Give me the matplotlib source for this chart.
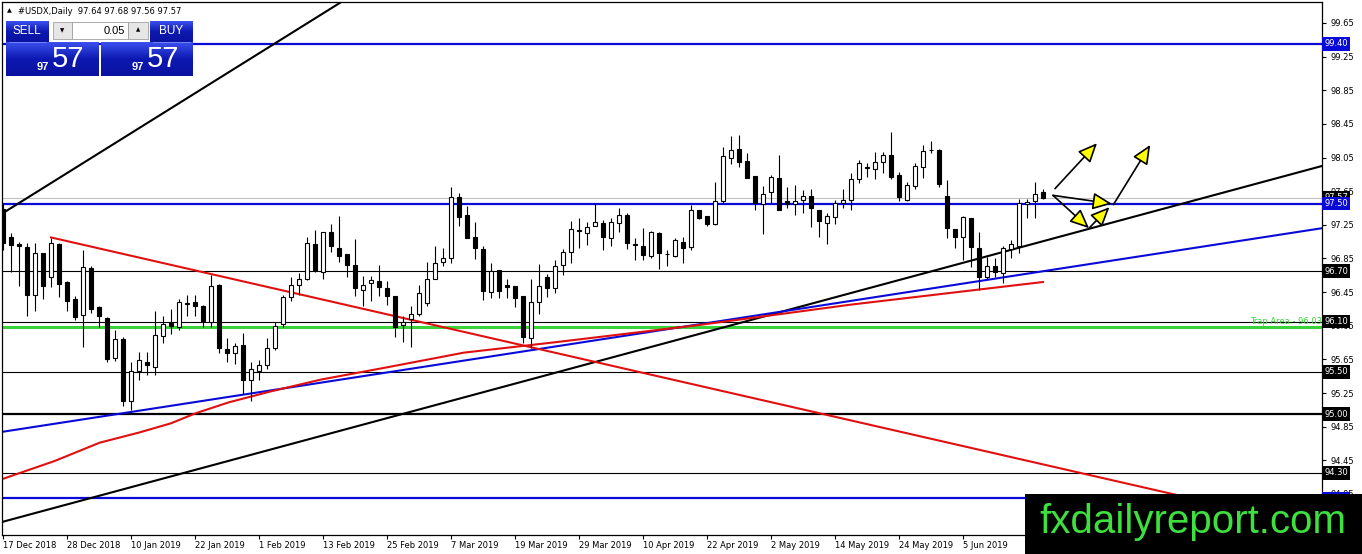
import matplotlib
matplotlib.use("Agg")
import matplotlib.pyplot as plt
import matplotlib.transforms as mtransforms
from matplotlib.colors import LinearSegmentedColormap
from matplotlib.patches import Rectangle
import numpy as np
import pandas as pd

W, H = 1362, 554

# daily bars, 17 Dec 2018 .. 19 Jun 2019 (no bars on 25 Dec / 1 Jan)
dates = pd.bdate_range("2018-12-17", "2019-06-19")
dates = dates[~dates.isin(pd.to_datetime(["2018-12-25", "2019-01-01"]))]

opens = [97.44, 97.10, 97.02, 96.99, 96.41, 96.91, 96.63, 97.02, 96.57, 96.37,
         96.18, 96.74, 96.27, 96.14, 95.67, 95.89, 95.16, 95.51, 95.62, 95.56,
         95.93, 96.08, 96.04, 96.31, 96.33, 96.29, 96.10, 96.53, 95.77, 95.73,
         95.82, 95.41, 95.51, 95.58, 95.78, 96.07, 96.39, 96.53, 96.61, 97.02,
         96.69, 97.16, 96.98, 96.90, 96.77, 96.48, 96.56, 96.58, 96.50, 96.40,
         96.06, 96.13, 96.19, 96.32, 96.60, 96.81, 96.85, 97.58, 97.37, 97.10,
         96.96, 96.45, 96.71, 96.53, 96.52, 96.40, 95.91, 96.33, 96.63, 96.50,
         96.77, 96.93, 97.18, 97.15, 97.24, 97.27, 97.09, 97.27, 97.37, 97.02,
         97.00, 96.88, 97.15, 96.90, 96.88, 97.05, 96.99, 97.43, 97.35, 97.26,
         97.53, 98.05, 98.15, 98.01, 97.83, 97.50, 97.64, 97.81, 97.53, 97.50,
         97.55, 97.59, 97.43, 97.27, 97.34, 97.51, 97.55, 97.79, 97.93, 97.91,
         98.00, 98.08, 97.84, 97.54, 97.71, 97.94, 98.14, 98.14, 97.59, 97.20,
         97.11, 97.33, 96.98, 96.63, 96.76, 96.68, 96.96, 97.00, 97.50, 97.53,
         97.64]
highs = [97.50, 97.15, 97.05, 97.03, 97.03, 96.92, 97.09, 97.03, 96.58, 96.40,
         96.95, 96.76, 96.28, 96.15, 96.00, 95.92, 95.62, 95.74, 95.74, 96.23,
         96.16, 96.25, 96.37, 96.41, 96.41, 96.30, 96.65, 96.55, 95.90, 95.85,
         95.96, 95.62, 95.64, 95.90, 96.10, 96.41, 96.63, 96.68, 97.10, 97.19,
         97.17, 97.26, 97.36, 96.90, 97.08, 96.64, 96.64, 96.77, 96.58, 96.40,
         96.16, 96.28, 96.53, 96.81, 97.00, 96.97, 97.70, 97.63, 97.47, 97.28,
         97.00, 96.80, 96.71, 96.61, 96.52, 96.40, 96.61, 96.78, 96.67, 96.83,
         96.96, 97.29, 97.33, 97.28, 97.51, 97.31, 97.33, 97.45, 97.39, 97.09,
         97.21, 97.18, 97.16, 96.95, 97.09, 97.10, 97.49, 97.43, 97.35, 97.76,
         98.17, 98.31, 98.32, 98.10, 97.83, 97.71, 97.84, 98.08, 97.70, 97.72,
         97.66, 97.67, 97.43, 97.39, 97.54, 97.68, 97.86, 98.02, 97.99, 98.11,
         98.11, 98.35, 97.88, 97.76, 97.99, 98.20, 98.25, 98.15, 97.78, 97.20,
         97.35, 97.33, 97.16, 96.87, 96.86, 97.00, 97.07, 97.56, 97.56, 97.76,
         97.68]
lows = [96.95, 96.69, 96.52, 96.16, 96.23, 96.37, 96.51, 96.39, 96.23, 96.12,
        95.80, 96.20, 96.04, 95.62, 95.63, 95.10, 95.05, 95.40, 95.46, 95.46,
        95.84, 95.95, 96.00, 96.17, 96.17, 96.04, 96.04, 95.72, 95.62, 95.60,
        95.24, 95.15, 95.40, 95.54, 95.76, 96.04, 96.35, 96.41, 96.59, 96.69,
        96.61, 96.93, 96.81, 96.63, 96.40, 96.28, 96.34, 96.40, 96.30, 95.92,
        95.86, 95.80, 96.16, 96.28, 96.60, 96.76, 96.80, 97.23, 97.09, 96.84,
        96.36, 96.38, 96.38, 96.38, 96.27, 95.84, 95.78, 96.19, 96.39, 96.44,
        96.65, 96.80, 96.98, 97.01, 97.23, 96.95, 97.00, 97.17, 96.96, 96.83,
        96.83, 96.86, 96.73, 96.76, 96.87, 96.80, 96.95, 97.32, 97.24, 97.25,
        97.51, 97.97, 97.94, 97.81, 97.43, 97.14, 97.51, 97.43, 97.45, 97.37,
        97.39, 97.22, 97.11, 97.02, 97.26, 97.45, 97.43, 97.75, 97.82, 97.80,
        97.87, 97.79, 97.53, 97.53, 97.68, 97.81, 98.10, 97.70, 97.09, 96.98,
        96.83, 96.75, 96.47, 96.61, 96.63, 96.56, 96.85, 96.92, 97.33, 97.33,
        97.56]
closes = [97.03, 97.01, 97.00, 96.41, 96.92, 96.52, 97.03, 96.55, 96.35, 96.15,
          96.75, 96.25, 96.17, 95.65, 95.89, 95.16, 95.51, 95.64, 95.58, 95.94,
          96.07, 96.05, 96.33, 96.32, 96.29, 96.11, 96.52, 95.78, 95.72, 95.81,
          95.40, 95.53, 95.58, 95.79, 96.05, 96.39, 96.53, 96.61, 97.03, 96.71,
          97.16, 97.00, 96.88, 96.77, 96.50, 96.53, 96.59, 96.51, 96.40, 96.04,
          96.09, 96.19, 96.44, 96.60, 96.80, 96.86, 97.58, 97.34, 97.09, 96.97,
          96.46, 96.70, 96.46, 96.51, 96.38, 95.92, 96.33, 96.52, 96.50, 96.76,
          96.93, 97.20, 97.18, 97.22, 97.28, 97.10, 97.28, 97.37, 97.03, 97.01,
          96.89, 97.16, 96.92, 96.90, 97.07, 96.98, 97.43, 97.33, 97.26, 97.53,
          98.07, 98.14, 98.00, 97.81, 97.51, 97.62, 97.82, 97.43, 97.50, 97.53,
          97.59, 97.45, 97.29, 97.35, 97.51, 97.55, 97.80, 97.99, 97.93, 98.00,
          98.08, 97.82, 97.58, 97.72, 97.95, 98.13, 98.14, 97.73, 97.21, 97.10,
          97.34, 96.99, 96.63, 96.76, 96.69, 96.97, 97.02, 97.51, 97.52, 97.62,
          97.57]

# horizontal levels
blue_levels = [99.40, 97.50, 94.00]
thin_levels = [96.70, 96.10, 95.50, 94.30]
bold_level = 95.00
trap_level = 96.03
bid = 97.57

# trendline anchors (bar index, price)
steep_black = ([0, 45], [97.39, 100.06])
long_black = ([0, 164.9], [93.72, 97.95])
blue_trend = ([0, 164.9], [94.79, 97.21])
red_down = ([6, 165], [97.10, 93.64])
red_curve_x = [0, 6.4, 12.1, 17, 21, 24.1, 28.25, 33.5, 39.75, 48.25, 57.6, 69.6, 87.1, 105.9, 130]
red_curve_y = [94.23, 94.44, 94.66, 94.78, 94.89, 95.01, 95.14, 95.27, 95.41, 95.56, 95.73, 95.86, 96.06, 96.30, 96.57]

# yellow arrows: (start, tip)
arrows = [((131.5, 97.68), (136.75, 98.22)),
          ((131.25, 97.60), (138.6, 97.50)),
          ((131.25, 97.60), (135.75, 97.21)),
          ((135.75, 97.21), (138.3, 97.46)),
          ((138.8, 97.49), (143.4, 98.20))]

ytick_vals = [94.05, 94.45, 94.85, 95.25, 95.65, 96.05, 96.45, 96.85,
              97.25, 97.65, 98.05, 98.45, 98.85, 99.25, 99.65]

BLUE = "#0a0ad8"
RED = "#e01010"
GREEN = "#3ad23a"
FONT = "DejaVu Sans"

o = np.array(opens); h = np.array(highs); l = np.array(lows); c = np.array(closes)
x = np.arange(len(dates))

fig = plt.figure(figsize=(W / 100, H / 100), dpi=100)
fig.patch.set_facecolor("white")
ax = fig.add_axes([2 / W, 1 - 535 / H, 1320 / W, 533 / H])
ax.set_xlim(-0.125, 164.875)
ax.set_ylim(93.562, 99.899)
for sp in ax.spines.values():
    sp.set_color("black")
    sp.set_linewidth(0.9)

# levels
ax.axhline(bid, color="#c0c0c0", lw=0.8, zorder=1)
for lv in blue_levels:
    ax.axhline(lv, color=BLUE, lw=1.6, zorder=1)
for lv in thin_levels:
    ax.axhline(lv, color="black", lw=0.8, zorder=1)
ax.axhline(bold_level, color="black", lw=1.6, zorder=1)
ax.axhline(trap_level, color=GREEN, lw=2.2, zorder=1)
ax.text(1.0, trap_level + 0.07, "Trap Area - 96.03", transform=mtransforms.blended_transform_factory(ax.transAxes, ax.transData),
        ha="right", va="center", color=GREEN, fontsize=6, family=FONT)

# trendlines
ax.plot(*steep_black, color="black", lw=1.5, zorder=2)
ax.plot(*long_black, color="black", lw=1.5, zorder=2)
ax.plot(*blue_trend, color=BLUE, lw=1.5, zorder=2)
ax.plot(*red_down, color=RED, lw=1.5, zorder=2)
ax.plot(red_curve_x, red_curve_y, color=RED, lw=1.5, zorder=2)

# candles
up = c >= o
ax.vlines(x, l, h, color="black", lw=0.8, zorder=3)
ax.bar(x, np.maximum(np.abs(c - o), 0.004), bottom=np.minimum(o, c), width=0.6,
       color=np.where(up, "white", "black"), edgecolor="black", linewidth=0.8, zorder=4)

for start, tip in arrows:
    ax.annotate("", xy=tip, xytext=start,
                arrowprops=dict(arrowstyle="-|>,head_length=0.9,head_width=0.4", mutation_scale=13,
                                fc="#ffff00", ec="black", lw=1.2, shrinkA=0, shrinkB=0), zorder=5)

# axes ticks
ax.yaxis.tick_right()
ax.set_yticks(ytick_vals)
ax.set_yticklabels([f"{v:.2f}" for v in ytick_vals], family=FONT, fontsize=6)
ax.tick_params(axis="y", direction="out", length=3, pad=3, width=0.8)
xt = list(range(0, 121, 8))
ax.set_xticks(xt)
ax.set_xticklabels([f"{dates[i].day} {dates[i]:%b %Y}" for i in xt], family=FONT, fontsize=6)
ax.tick_params(axis="x", direction="out", length=3, pad=1, width=0.8)
for lbl in ax.get_xticklabels():
    lbl.set_ha("left")

# price boxes on the right scale (bid box underneath the level boxes)
tr = mtransforms.blended_transform_factory(ax.transAxes, ax.transData)
ax.text(1.0017, bid, f"{bid:.2f}", transform=tr, ha="left", va="center", color="white", fontsize=6,
        family=FONT, bbox=dict(boxstyle="square,pad=0.25", fc="black", ec="none"), clip_on=False, zorder=6)
for lv in thin_levels + [bold_level]:
    ax.text(1.0017, lv, f"{lv:.2f}", transform=tr, ha="left", va="center", color="white", fontsize=6,
            family=FONT, bbox=dict(boxstyle="square,pad=0.25", fc="black", ec="none"), clip_on=False, zorder=7)
for lv in blue_levels:
    ax.text(1.0017, lv, f"{lv:.2f}", transform=tr, ha="left", va="center", color="white", fontsize=6,
            family=FONT, bbox=dict(boxstyle="square,pad=0.25", fc=BLUE, ec="none"), clip_on=False, zorder=7)

# overlay in pixel coordinates: header, trade panel, watermark
ov = fig.add_axes([0, 0, 1, 1], zorder=10)
ov.axis("off")
blue_grad = LinearSegmentedColormap.from_list("panel", ["#3b50ee", "#0c18b0", "#0a12a0"])
grad = np.linspace(0, 1, 64).reshape(-1, 1)


def panel_box(x0, y0, x1, y1):
    ov.imshow(grad, cmap=blue_grad, extent=(x0, x1, y1, y0), aspect="auto", interpolation="bilinear", zorder=2)


panel_box(6, 21, 49, 42)
panel_box(6, 42, 99, 76)
panel_box(150, 21, 193, 42)
panel_box(101, 42, 193, 76)
ov.add_patch(Rectangle((49, 21), 101, 21, fc="white", ec="none", zorder=1))
ov.add_patch(Rectangle((53, 22), 19, 17, fc="#e6e6e6", ec="#a0a0a0", lw=0.6, zorder=3))
ov.add_patch(Rectangle((72, 22), 56, 17, fc="white", ec="#a0a0a0", lw=0.6, zorder=3))
ov.add_patch(Rectangle((128, 22), 20, 17, fc="#e6e6e6", ec="#a0a0a0", lw=0.6, zorder=3))
ov.plot([9, 46], [42, 42], color="#7d8cff", lw=0.6, zorder=4)
ov.plot([153, 190], [42, 42], color="#7d8cff", lw=0.6, zorder=4)

ov.text(27, 31, "SELL", color="white", fontsize=8.5, family="Liberation Sans", ha="center", va="center", zorder=5)
ov.text(171, 31, "BUY", color="white", fontsize=8.5, family="Liberation Sans", ha="center", va="center", zorder=5)
ov.text(125, 30.5, "0.05", color="black", fontsize=8, family="Liberation Sans", ha="right", va="center", zorder=5)
ov.text(62.5, 31, "▼", color="black", fontsize=4, family=FONT, ha="center", va="center", zorder=5)
ov.text(138, 30, "▲", color="black", fontsize=4, family=FONT, ha="center", va="center", zorder=5)
for bx in (49, 144):
    ov.text(bx, 67, "97", color="white", fontsize=8, weight="bold", family="Liberation Sans", ha="right", va="center", zorder=5)
    ov.text(bx + 3, 59, "57", color="white", fontsize=21, family="Liberation Sans", ha="left", va="center", zorder=5)

ov.text(7, 11, "▲", color="black", fontsize=4.5, family=FONT, ha="left", va="center")
ov.text(18, 11, "#USDX,Daily  97.64 97.68 97.56 97.57", color="black", fontsize=6, family=FONT, ha="left", va="center")

ov.add_patch(Rectangle((1025, 494), W - 1025, H - 494, fc="black", ec="none", zorder=6))
ov.text(1193, 522, "fxdailyreport.com", color="#3ee03e", fontsize=29, family="Liberation Sans",
        ha="center", va="center", zorder=7)

ov.set_xlim(0, W)
ov.set_ylim(H, 0)

fig.savefig("out.png", dpi=100)
